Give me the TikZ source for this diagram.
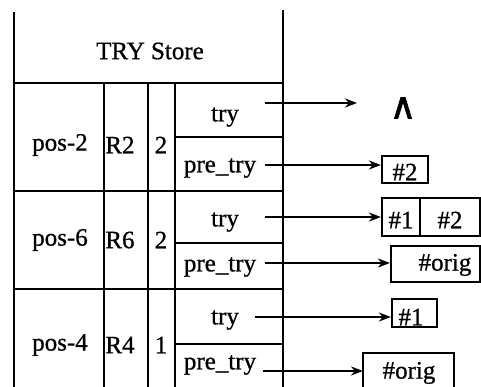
\documentclass[tikz,border=0pt]{standalone}
\usepackage{fontspec}
\setmainfont{Liberation Serif}
\newfontfamily\scanfont{Liberation Serif}[FakeBold=0.8]
\newfontfamily\symfont{DejaVu Sans}[FakeBold=2]
\usetikzlibrary{arrows.meta}
\begin{document}
\begin{tikzpicture}[x=1pt,y=-1pt,
  tline/.style={line width=2.4pt},
  lbl/.style={inner sep=0pt,font=\scanfont\fontsize{25}{29}\selectfont},
  arr/.style={line width=2.2pt,-{Stealth[length=12pt,width=9pt]}},
  valbox/.style={draw,line width=2.2pt,inner sep=0pt}]
\useasboundingbox (0,0) rectangle (481,387);
% table lines
\draw[tline] (14,12) -- (14,387);
\draw[tline] (283,10) -- (283,387);
\draw[tline] (14,83) -- (283,83);
\draw[tline] (14,191) -- (283,191);
\draw[tline] (14,289) -- (283,289);
\draw[tline] (104,83) -- (104,387);
\draw[tline] (148,83) -- (148,387);
\draw[tline] (175,83) -- (175,387);
\draw[tline] (175,137) -- (283,137);
\draw[tline] (175,243) -- (283,243);
\draw[tline] (175,344) -- (283,344);
% header
\node[lbl] (title) at (150,51) {TRY Store};
% row 1
\node[lbl] (p2) at (60,145) {pos-2};
\node[lbl] (r2) at (120,145) {R2};
\node[lbl] (n2) at (161,145) {2};
\node[lbl] (t1) at (225,117) {try};
\node[lbl] (pt1) at (220,168) {pre\_try};
% row 2
\node[lbl] (p6) at (60,240) {pos-6};
\node[lbl] (r6) at (120,240) {R6};
\node[lbl] (n6) at (161,240) {2};
\node[lbl] (t2) at (225,222) {try};
\node[lbl] (pt2) at (220,267) {pre\_try};
% row 3
\node[lbl] (p4) at (60,345) {pos-4};
\node[lbl] (r4) at (120,345) {R4};
\node[lbl] (n4) at (161,345) {1};
\node[lbl] (t3) at (225,320) {try};
\node[lbl] (pt3) at (220,365) {pre\_try};
% value boxes
\node[inner sep=0pt,font=\symfont\fontsize{36}{40}\selectfont] (nil) at (403,108) {∧};
\node[valbox,minimum width=46pt,minimum height=27pt] (b2) at (405,169.5) {};
\node[lbl] (b2t) at (405,172) {\#2};
\node[valbox,minimum width=38pt,minimum height=38pt] (b12a) at (401,217) {};
\node[valbox,minimum width=60pt,minimum height=38pt] (b12b) at (450,217) {};
\node[lbl] (b12at) at (401,220) {\#1};
\node[lbl] (b12bt) at (450,220) {\#2};
\node[valbox,minimum width=89pt,minimum height=36pt] (bo1) at (435.5,264) {};
\node[lbl] (bo1t) at (445,265) {\#orig};
\node[valbox,minimum width=45pt,minimum height=28pt] (b1) at (414.5,313) {};
\node[lbl] (b1t) at (411,317) {\#1};
\coordinate (bo2w) at (363,371);
\draw[line width=2.2pt] (363,390) |- (454,353) -- (454,390);
\node[lbl] (bo2t) at (409,373) {\#orig};
% arrows
\coordinate (s1) at (265,103);
\coordinate (e1) at (357,103);
\draw[arr] (s1) -- (e1);
\coordinate (s2) at (265,165);
\draw[arr] (s2) -- (b2.west |- s2);
\coordinate (s3) at (265,217);
\draw[arr] (s3) -- (b12a.west |- s3);
\coordinate (s4) at (265,263);
\draw[arr] (s4) -- (bo1.west |- s4);
\coordinate (s5) at (255,317);
\draw[arr] (s5) -- (b1.west |- s5);
\coordinate (s6) at (263,371);
\draw[arr] (s6) -- (bo2w);
\end{tikzpicture}
\end{document}
